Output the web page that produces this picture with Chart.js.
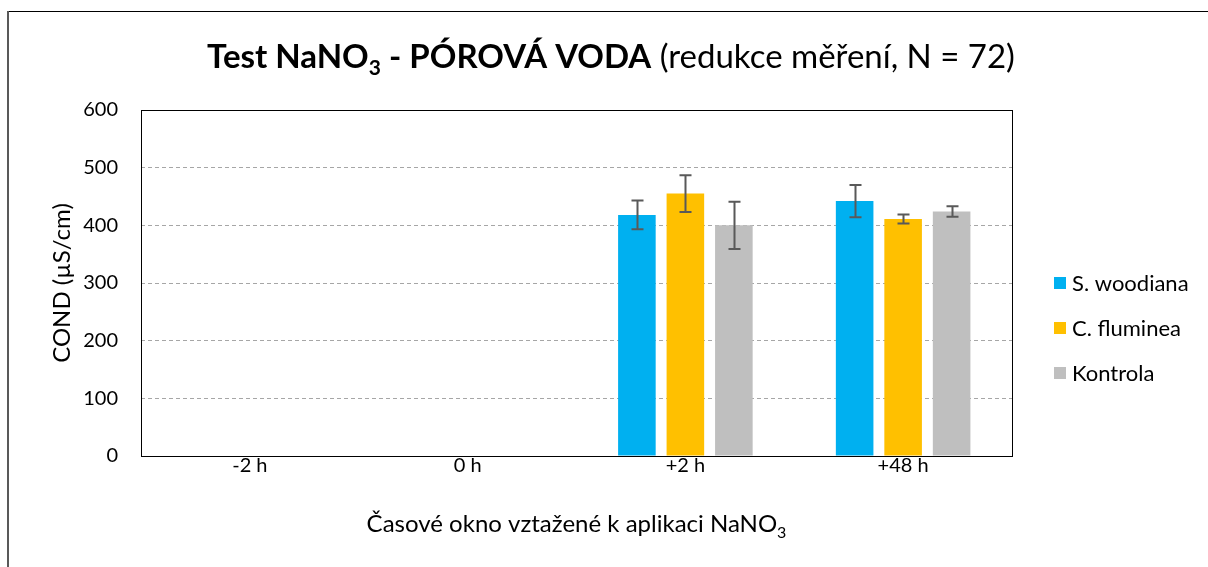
<!DOCTYPE html>
<html><head><meta charset="utf-8">
<script src="https://cdn.jsdelivr.net/npm/chart.js@4/dist/chart.umd.min.js"></script>
<style>html,body{margin:0;padding:0;background:#fff}#wrap{width:1208px;height:567px;position:relative}</style>
</head><body><div id="wrap"><canvas id="c" width="1208" height="567"></canvas></div>
<script>
const categories = ['-2 h', '0 h', '+2 h', '+48 h'];
const seriesNames = ['S. woodiana', 'C. fluminea', 'Kontrola'];
const seriesColors = ['#00B0F0', '#FFC000', '#BFBFBF'];
const sWoodiana = [null, null, 418, 442];
const cFluminea = [null, null, 455, 411];
const kontrola = [null, null, 400, 424];
const sWoodianaErr = [null, null, 25, 28];
const cFlumineaErr = [null, null, 32, 8];
const kontrolaErr = [null, null, 41, 9];
const yTicks = [0, 100, 200, 300, 400, 500, 600];
const titleBold1 = 'Test NaNO';
const titleSub = '3';
const titleBold2 = ' - PÓROVÁ VODA';
const titleNormal = ' (redukce měření, N = 72)';
const yTitle = 'COND (µS/cm)';
const xTitleMain = 'Časové okno vztažené k aplikaci NaNO';
const xTitleSub = '3';

const FONT = 'Lato, "Liberation Sans", sans-serif';
const errs = [sWoodianaErr, cFlumineaErr, kontrolaErr];

const customDraw = {
  id: 'customDraw',
  beforeDraw(chart) {
    const ctx = chart.ctx;
    ctx.save();
    ctx.fillStyle = '#fff';
    ctx.fillRect(0, 0, chart.width, chart.height);
    ctx.strokeStyle = '#000';
    ctx.lineWidth = 1;
    ctx.beginPath(); ctx.moveTo(8, 11.5); ctx.lineTo(chart.width, 11.5); ctx.stroke();
    ctx.strokeStyle = '#595959';
    ctx.lineWidth = 2;
    ctx.beginPath(); ctx.moveTo(8, 11); ctx.lineTo(8, chart.height); ctx.stroke();
    ctx.restore();
  },
  afterDatasetsDraw(chart) {
    const ctx = chart.ctx;
    const ys = chart.scales.y;
    ctx.save();
    ctx.strokeStyle = '#595959';
    ctx.lineWidth = 2;
    chart.data.datasets.forEach((ds, i) => {
      const meta = chart.getDatasetMeta(i);
      ds.data.forEach((v, j) => {
        const e = errs[i][j];
        if (v == null || e == null) return;
        const x = Math.round(meta.data[j].x) + 0.5;
        const yt = ys.getPixelForValue(v + e);
        const yb = ys.getPixelForValue(v - e);
        ctx.beginPath();
        ctx.moveTo(x, yt); ctx.lineTo(x, yb);
        ctx.moveTo(x - 6, yt); ctx.lineTo(x + 6, yt);
        ctx.moveTo(x - 6, yb); ctx.lineTo(x + 6, yb);
        ctx.stroke();
      });
    });
    ctx.restore();
  },
  afterDraw(chart) {
    const ctx = chart.ctx;
    const a = chart.chartArea;
    ctx.save();
    ctx.strokeStyle = '#000';
    ctx.lineWidth = 1;
    ctx.strokeRect(Math.round(a.left) + 0.5, Math.round(a.top) + 0.5, Math.round(a.right - a.left), Math.round(a.bottom - a.top));
    // title
    const fs = 33;
    const fb = 'bold ' + fs + 'px ' + FONT;
    const fn = fs + 'px ' + FONT;
    const fsub = 'bold ' + Math.round(fs * 0.65) + 'px ' + FONT;
    ctx.fillStyle = '#000';
    ctx.textBaseline = 'alphabetic';
    ctx.textAlign = 'left';
    ctx.font = fb; const w1 = ctx.measureText(titleBold1).width; const w3 = ctx.measureText(titleBold2).width;
    ctx.font = fsub; const w2 = ctx.measureText(titleSub).width;
    ctx.font = fn; const w4 = ctx.measureText(titleNormal).width;
    const total = w1 + w2 + w3 + w4;
    let x = 611 - total / 2;
    const by = 68;
    ctx.font = fb; ctx.fillText(titleBold1, x, by); x += w1;
    ctx.font = fsub; ctx.fillText(titleSub, x, by + 7); x += w2;
    ctx.font = fb; ctx.fillText(titleBold2, x, by); x += w3;
    ctx.font = fn; ctx.fillText(titleNormal, x, by);
    // x axis title
    const xf = '24px ' + FONT;
    const xfs = '16px ' + FONT;
    ctx.font = xf; const xw1 = ctx.measureText(xTitleMain).width;
    ctx.font = xfs; const xw2 = ctx.measureText(xTitleSub).width;
    let xx = (a.left + a.right) / 2 - (xw1 + xw2) / 2;
    ctx.font = xf; ctx.fillText(xTitleMain, xx, 532);
    ctx.font = xfs; ctx.fillText(xTitleSub, xx + xw1, 538);
    // y axis title
    ctx.save();
    ctx.translate(62, (a.top + a.bottom) / 2);
    ctx.rotate(-Math.PI / 2);
    ctx.textAlign = 'center';
    ctx.textBaseline = 'middle';
    ctx.font = '24px ' + FONT;
    ctx.fillText(yTitle, 0, 0);
    ctx.restore();
    // legend
    ctx.font = '22px ' + FONT;
    ctx.textBaseline = 'middle';
    ctx.textAlign = 'left';
    chart.data.datasets.forEach((ds, i) => {
      const cy = 283 + i * 45;
      ctx.fillStyle = ds.backgroundColor;
      ctx.fillRect(1054, cy - 6, 12, 12);
      ctx.fillStyle = '#000';
      ctx.fillText(ds.label, 1072, cy + 1);
    });
    ctx.restore();
  }
};

const seriesData = [sWoodiana, cFluminea, kontrola];
new Chart(document.getElementById('c'), {
  type: 'bar',
  data: {
    labels: categories,
    datasets: seriesNames.map((n, i) => ({
      label: n,
      data: seriesData[i],
      backgroundColor: seriesColors[i],
      borderWidth: 0,
      barPercentage: 0.775,
      categoryPercentage: 0.668
    }))
  },
  options: {
    responsive: false,
    animation: false,
    devicePixelRatio: 1,
    layout: { padding: { left: 0, right: 196, top: 110, bottom: 0 } },
    plugins: { legend: { display: false }, title: { display: false }, tooltip: { enabled: false } },
    scales: {
      x: {
        grid: { display: false, drawTicks: false },
        border: { display: false },
        ticks: { color: '#000', font: { family: FONT, size: 20 }, padding: -2, maxRotation: 0 },
        afterFit(s) { s.height = 111; }
      },
      y: {
        min: 0, max: 600,
        afterBuildTicks(s) { s.ticks = yTicks.map(v => ({ value: v })); },
        grid: { color: (c) => (c.tick && (c.tick.value === 0 || c.tick.value === 600)) ? 'rgba(0,0,0,0)' : '#A6A6A6', lineWidth: 1, drawTicks: false },
        border: { display: false, dash: [4, 3] },
        ticks: { color: '#000', font: { family: FONT, size: 20 }, padding: 23 },
        afterFit(s) { s.width = 141; }
      }
    }
  },
  plugins: [customDraw]
});
</script>
</body></html>
